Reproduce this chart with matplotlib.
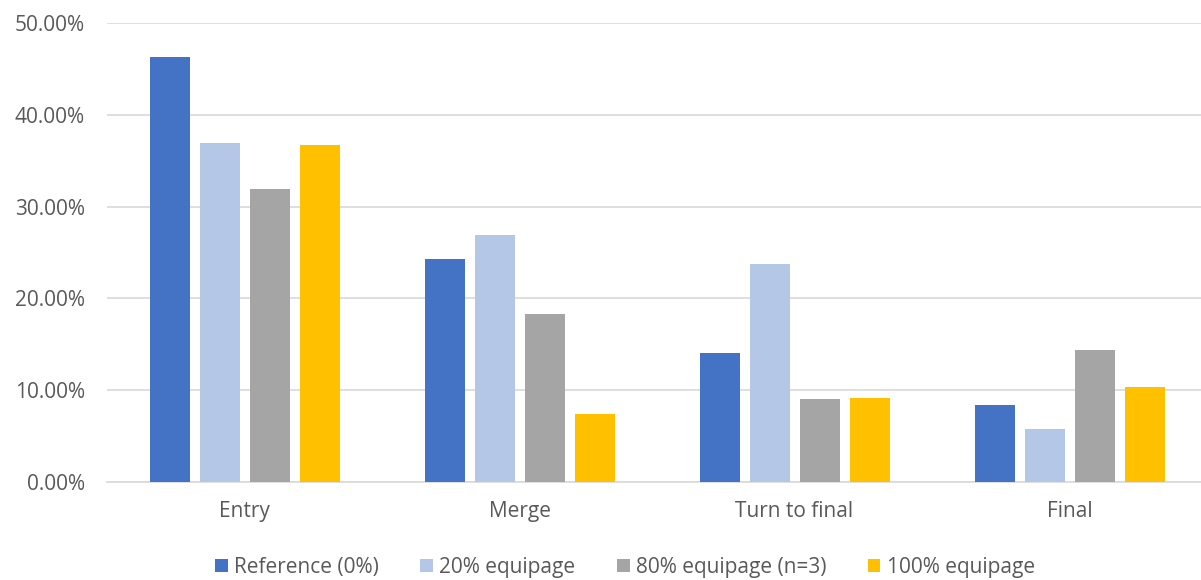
import matplotlib
matplotlib.use("Agg")
import matplotlib.pyplot as plt
import numpy as np
from matplotlib.ticker import FuncFormatter

categories = ["Entry", "Merge", "Turn to final", "Final"]
series_names = ["Reference (0%)", "20% equipage", "80% equipage (n=3)", "100% equipage"]
reference = [46.3, 24.3, 14.0, 8.35]
equip20 = [36.9, 26.9, 23.8, 5.8]
equip80 = [31.9, 18.3, 9.0, 14.4]
equip100 = [36.7, 7.4, 9.2, 10.35]
colors = ["#4472C4", "#B4C7E7", "#A5A5A5", "#FFC000"]

plt.rcParams['font.family'] = ['Open Sans', 'DejaVu Sans']

fig = plt.figure(figsize=(12.01, 5.8), dpi=100)
ax = fig.add_axes([107/1201, 98/580, 1100/1201, 459/580])

x = np.arange(len(categories))
step = 50/275
width = 40/275
all_series = [reference, equip20, equip80, equip100]
for i, (vals, name, c) in enumerate(zip(all_series, series_names, colors)):
    ax.bar(x + (i - 1.5)*step, vals, width, color=c, label=name, zorder=3)

ax.set_xlim(-0.5, 3.5)
ax.set_ylim(0, 50)
ax.set_yticks(np.arange(0, 51, 10))
ax.yaxis.set_major_formatter(FuncFormatter(lambda v, p: f"{v:.2f}%"))
ax.set_xticks(x)
ax.set_xticklabels(categories)
ax.grid(axis='y', color='#d9d9d9', linewidth=1.2, zorder=0)
for s in ['top', 'right', 'left']:
    ax.spines[s].set_visible(False)
ax.spines['bottom'].set_color('#d9d9d9')
ax.spines['bottom'].set_linewidth(1.2)
ax.tick_params(axis='both', length=0, labelsize=15, colors='#595959')
ax.tick_params(axis='y', pad=16)
ax.tick_params(axis='x', pad=14)

leg = fig.legend(loc='center', bbox_to_anchor=(625/1201, 1 - 567/580), ncol=4, frameon=False,
                 fontsize=15, handlelength=0.6, handleheight=0.6, handletextpad=0.3,
                 columnspacing=2.0, labelcolor='#595959')

fig.savefig("out.png", dpi=100)
